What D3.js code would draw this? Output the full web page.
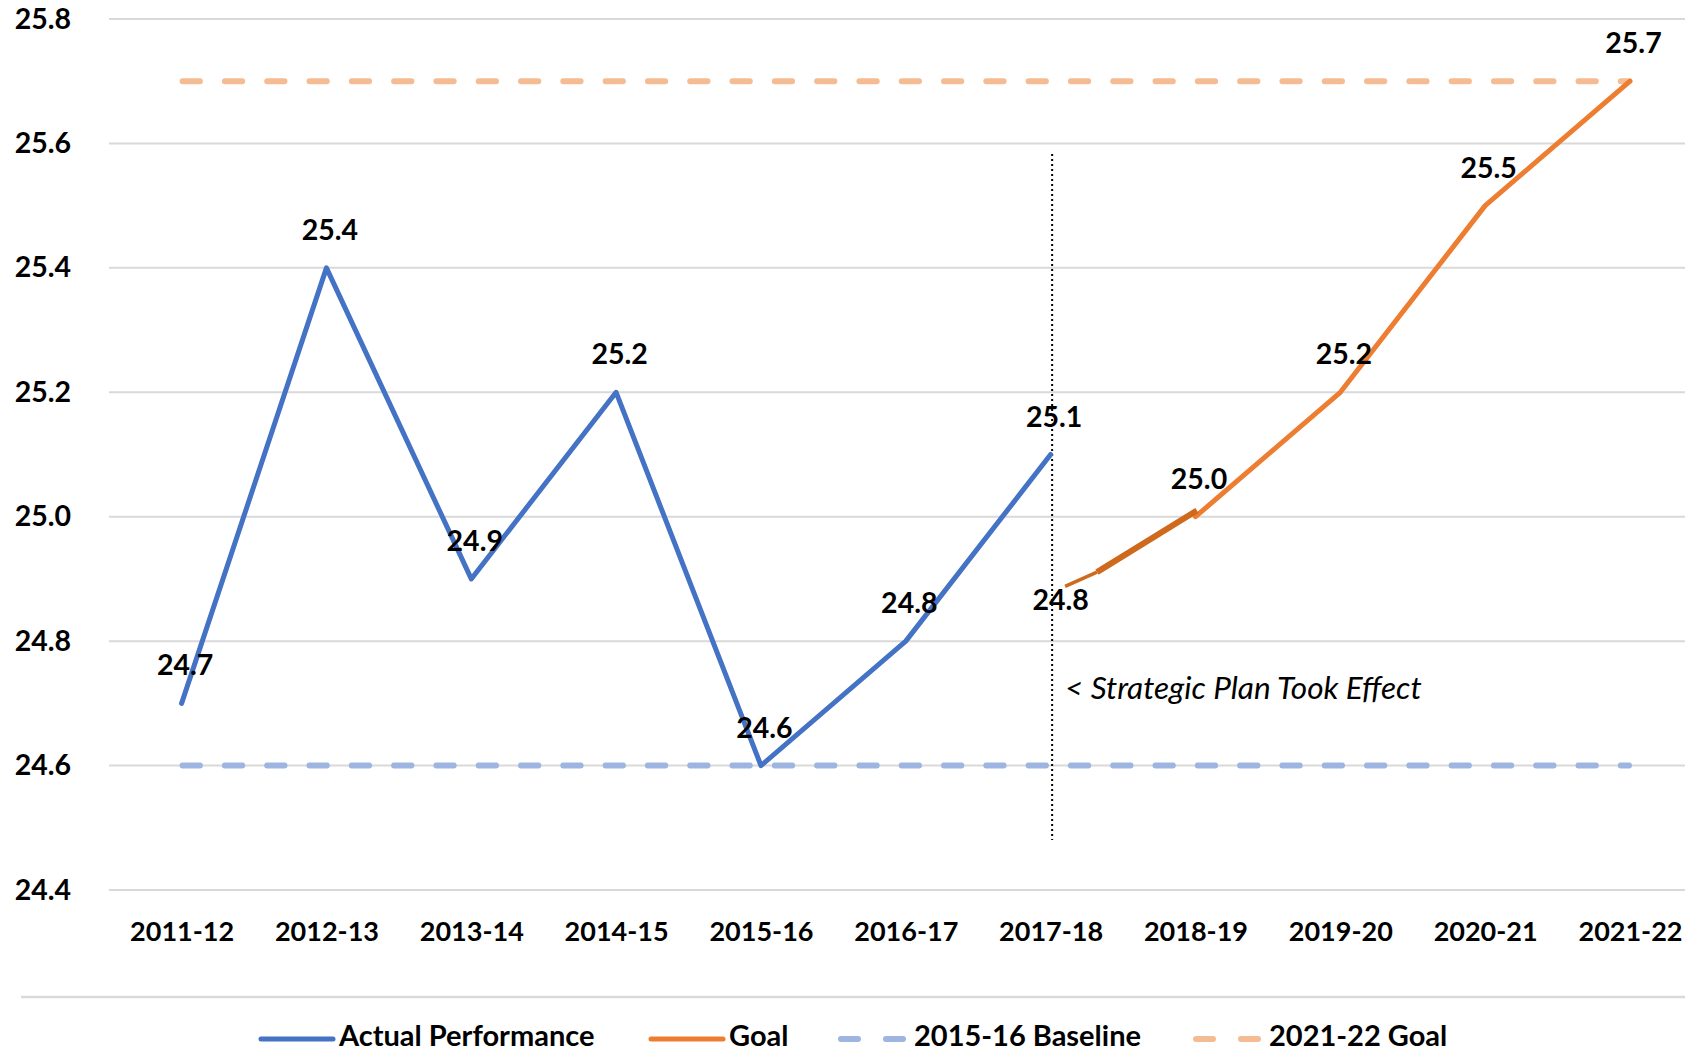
<!DOCTYPE html>
<html>
<head>
<meta charset="utf-8">
<script src="https://cdn.jsdelivr.net/npm/d3@7"></script>
<style>
  html, body { margin: 0; padding: 0; background: #fff; }
  svg { display: block; }
  text { font-family: Lato, "Open Sans", sans-serif; }
</style>
</head>
<body>
<svg id="chart" width="1685" height="1051"></svg>
<script>
// Chart data
const categories = ["2011-12", "2012-13", "2013-14", "2014-15", "2015-16", "2016-17",
  "2017-18", "2018-19", "2019-20", "2020-21", "2021-22"];
const actual = [24.7, 25.4, 24.9, 25.2, 24.6, 24.8, 25.1, null, null, null, null];
const goal = [null, null, null, null, null, null, 24.8, 25.0, 25.2, 25.5, 25.7];
const baselineValue = 24.6;   // 2015-16 Baseline
const goalValue = 25.7;       // 2021-22 Goal
const yTicks = [24.4, 24.6, 24.8, 25.0, 25.2, 25.4, 25.6, 25.8];
// darker hand drawn piece between 2017-18 and 2018-19 (category index, value)
const bridge = [[6.10, 24.888], [6.32, 24.911], [7.01, 25.01]];
const legendItems = ["Actual Performance", "Goal", "2015-16 Baseline", "2021-22 Goal"];

const colors = {
  actual: "#4472C4",
  goal: "#ED7D31",
  bridge: "#CF6A1D",
  baseline: "#9DB5E0",
  goalLine: "#F5BC94"
};

const svg = d3.select("#chart");

// Scales
const x = d3.scalePoint().domain(categories).range([181.6, 1630]);
const xi = d3.scaleLinear().domain([0, categories.length - 1]).range([181.6, 1630]);
const y = d3.scaleLinear().domain([24.4, 25.8]).range([890, 19]);

// Gridlines
svg.append("g")
  .selectAll("line")
  .data(yTicks)
  .join("line")
  .attr("x1", 109)
  .attr("x2", 1685)
  .attr("y1", d => y(d))
  .attr("y2", d => y(d))
  .attr("stroke", "#D9D9D9")
  .attr("stroke-width", 2);

// Y axis labels
const yAxis = svg.append("g")
  .attr("transform", "translate(71,0)")
  .call(d3.axisLeft(y).tickValues(yTicks).tickFormat(d3.format(".1f")).tickSize(0).tickPadding(0));
yAxis.select(".domain").remove();
yAxis.selectAll("text")
  .attr("font-size", 28.5)
  .attr("font-weight", "bold")
  .attr("fill", "#000")
  .style("font-family", "Lato, sans-serif");

// X axis labels
const xAxis = svg.append("g")
  .attr("transform", "translate(0,922)")
  .call(d3.axisBottom(x).tickSize(0).tickPadding(0));
xAxis.select(".domain").remove();
xAxis.selectAll("text")
  .attr("font-size", 27)
  .attr("font-weight", "bold")
  .attr("fill", "#000")
  .style("font-family", "Lato, sans-serif");

// Dashed reference lines
function refLine(value, color) {
  svg.append("line")
    .attr("x1", x(categories[0]) + 1)
    .attr("x2", x(categories[categories.length - 1]) - 1)
    .attr("y1", y(value))
    .attr("y2", y(value))
    .attr("stroke", color)
    .attr("stroke-width", 6)
    .attr("stroke-linecap", "round")
    .attr("stroke-dasharray", "17.3,25");
}
refLine(baselineValue, colors.baseline);
refLine(goalValue, colors.goalLine);

// Vertical dotted marker at 2017-18
svg.append("line")
  .attr("x1", x("2017-18") + 1.5)
  .attr("x2", x("2017-18") + 1.5)
  .attr("y1", 154)
  .attr("y2", 840)
  .attr("stroke", "#000")
  .attr("stroke-width", 2)
  .attr("stroke-dasharray", "2,3");

svg.append("text")
  .attr("x", 1065)
  .attr("y", 699)
  .attr("font-size", 31.5)
  .attr("font-style", "italic")
  .attr("fill", "#000")
  .text("< Strategic Plan Took Effect");

// Lines
const line = d3.line()
  .defined(d => d.v != null)
  .x(d => x(d.c))
  .y(d => y(d.v));

const actualData = categories.map((c, i) => ({ c, v: actual[i] }));
// goal line is shown from 2018-19 on, the 2017-18 step is the bridge
const goalData = categories.map((c, i) => ({ c, v: i >= 7 ? goal[i] : null }));

svg.append("path")
  .datum(actualData)
  .attr("d", line)
  .attr("fill", "none")
  .attr("stroke", colors.actual)
  .attr("stroke-width", 5)
  .attr("stroke-linejoin", "round")
  .attr("stroke-linecap", "round");

svg.append("path")
  .datum(goalData)
  .attr("d", line)
  .attr("fill", "none")
  .attr("stroke", colors.goal)
  .attr("stroke-width", 5)
  .attr("stroke-linejoin", "round")
  .attr("stroke-linecap", "round");

// bridge pieces: thin first piece then thicker one
const bridgeLine = d3.line().x(d => xi(d[0])).y(d => y(d[1]));
svg.append("path")
  .attr("d", bridgeLine(bridge.slice(0, 2)))
  .attr("fill", "none")
  .attr("stroke", colors.bridge)
  .attr("stroke-width", 3.5);
svg.append("path")
  .attr("d", bridgeLine(bridge.slice(1)))
  .attr("fill", "none")
  .attr("stroke", colors.bridge)
  .attr("stroke-width", 6);

// Data labels
const labelData = actualData.filter(d => d.v != null)
  .concat(categories.map((c, i) => ({ c, v: goal[i], g: true })).filter(d => d.v != null));

svg.append("g")
  .selectAll("text")
  .data(labelData)
  .join("text")
  .attr("x", d => x(d.c) + (d.g && d.c === "2017-18" ? 10 : 3.5))
  .attr("y", d => y(d.v) - (d.g && d.c === "2017-18" ? 31 : 28))
  .attr("text-anchor", "middle")
  .attr("font-size", 28.5)
  .attr("font-weight", "bold")
  .attr("fill", "#000")
  .text(d => d3.format(".1f")(d.v));

// Legend separator
svg.append("line")
  .attr("x1", 21)
  .attr("x2", 1685)
  .attr("y1", 997)
  .attr("y2", 997)
  .attr("stroke", "#D9D9D9")
  .attr("stroke-width", 2.5);

// Legend
const legendX = [261, 651, 838, 1193];
const legendColors = [colors.actual, colors.goal, colors.baseline, colors.goalLine];
const legendDash = [null, null, "17,28", "17,28"];
const legend = svg.append("g")
  .selectAll("g")
  .data(legendItems)
  .join("g")
  .attr("transform", (d, i) => `translate(${legendX[i]},1039)`);

legend.append("line")
  .attr("x1", (d, i) => legendDash[i] ? 3 : 0)
  .attr("x2", (d, i) => legendDash[i] ? 65 : 72)
  .attr("stroke", (d, i) => legendColors[i])
  .attr("stroke-width", (d, i) => legendDash[i] ? 6 : 5)
  .attr("stroke-linecap", "round")
  .attr("stroke-dasharray", (d, i) => legendDash[i]);

legend.append("text")
  .attr("x", (d, i) => legendDash[i] ? 76 : 78)
  .attr("y", 7)
  .attr("font-size", 29)
  .attr("font-weight", "bold")
  .attr("fill", "#000")
  .text(d => d);
</script>
</body>
</html>
